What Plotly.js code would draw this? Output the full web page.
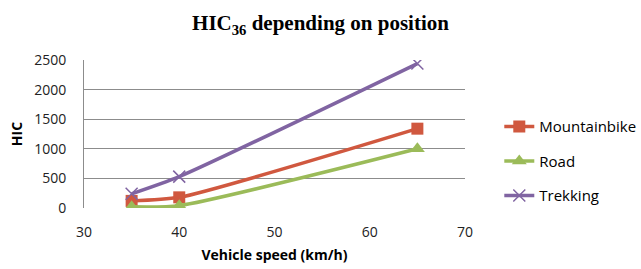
<!DOCTYPE html>
<html><head><meta charset="utf-8">
<script src="https://cdn.plot.ly/plotly-3.0.1.min.js"></script>
<style>html,body{margin:0;padding:0;background:#fff}#c{width:641px;height:269px}</style>
</head><body><div id="c"></div>
<script>
const speeds = [35, 40, 65];
const mountainbike = [120, 180, 1340];
const road = [20, 40, 1000];
const trekking = [240, 530, 2440];
const seriesNames = ['Mountainbike', 'Road', 'Trekking'];
const colors = ['#D0583F', '#9BBB59', '#8064A2'];

const traces = [
  {x: speeds, y: mountainbike, name: seriesNames[0], legendgroup: 'a', mode: 'lines+markers',
   line: {color: colors[0], width: 3.5, shape: 'spline', smoothing: 0.6},
   marker: {symbol: 'square', size: 12, color: colors[0]}},
  {x: speeds, y: road, name: seriesNames[1], legendgroup: 'b', mode: 'lines+markers',
   line: {color: colors[1], width: 3.5, shape: 'spline', smoothing: 0.6},
   marker: {symbol: 'triangle-up', size: 13, color: colors[1]}},
  {x: speeds, y: trekking, name: seriesNames[2], legendgroup: 'c', mode: 'lines+markers',
   line: {color: colors[2], width: 3.5, shape: 'spline', smoothing: 0.6},
   marker: {symbol: 'x-thin-open', size: 12, color: colors[2], line: {color: colors[2], width: 1.5}}}
];

const layout = {
  width: 641, height: 269,
  margin: {l: 84, r: 176, t: 60, b: 61, autoexpand: false},
  paper_bgcolor: '#fff', plot_bgcolor: '#fff',
  title: {text: '<b>HIC<sub>36</sub> depending on position</b>', x: 0.5, xanchor: 'center', y: 0.915, yanchor: 'middle',
          font: {family: 'Liberation Serif, Times New Roman, serif', size: 21, color: '#000'}},
  font: {family: 'Open Sans, Liberation Sans, sans-serif', size: 14, color: '#000'},
  xaxis: {range: [30, 70], dtick: 10, tick0: 30, showgrid: false, zeroline: false,
          showline: false, ticks: '', ticklen: 0, ticklabelstandoff: 14,
          tickfont: {size: 14, color: '#222'},
          title: {text: '<b>Vehicle speed (km/h)</b>', standoff: 10, font: {size: 14, color: '#000'}}},
  yaxis: {range: [0, 2500], dtick: 500, showgrid: true, gridcolor: '#8c8c8c', gridwidth: 1,
          zeroline: false, showline: true, linecolor: '#8c8c8c', linewidth: 1,
          ticks: '', ticklabelstandoff: 14, tickfont: {size: 14, color: '#222'},
          title: {text: '<b>HIC</b>', standoff: 8, font: {size: 14, color: '#000'}}},
  showlegend: true,
  legend: {x: 1.09, y: 0.66, xanchor: 'left', yanchor: 'top', traceorder: 'grouped',
           tracegroupgap: 12, font: {size: 15, color: '#000'}, bgcolor: 'rgba(0,0,0,0)'}
};
Plotly.newPlot('c', traces, layout, {displayModeBar: false, staticPlot: true});
</script></body></html>
